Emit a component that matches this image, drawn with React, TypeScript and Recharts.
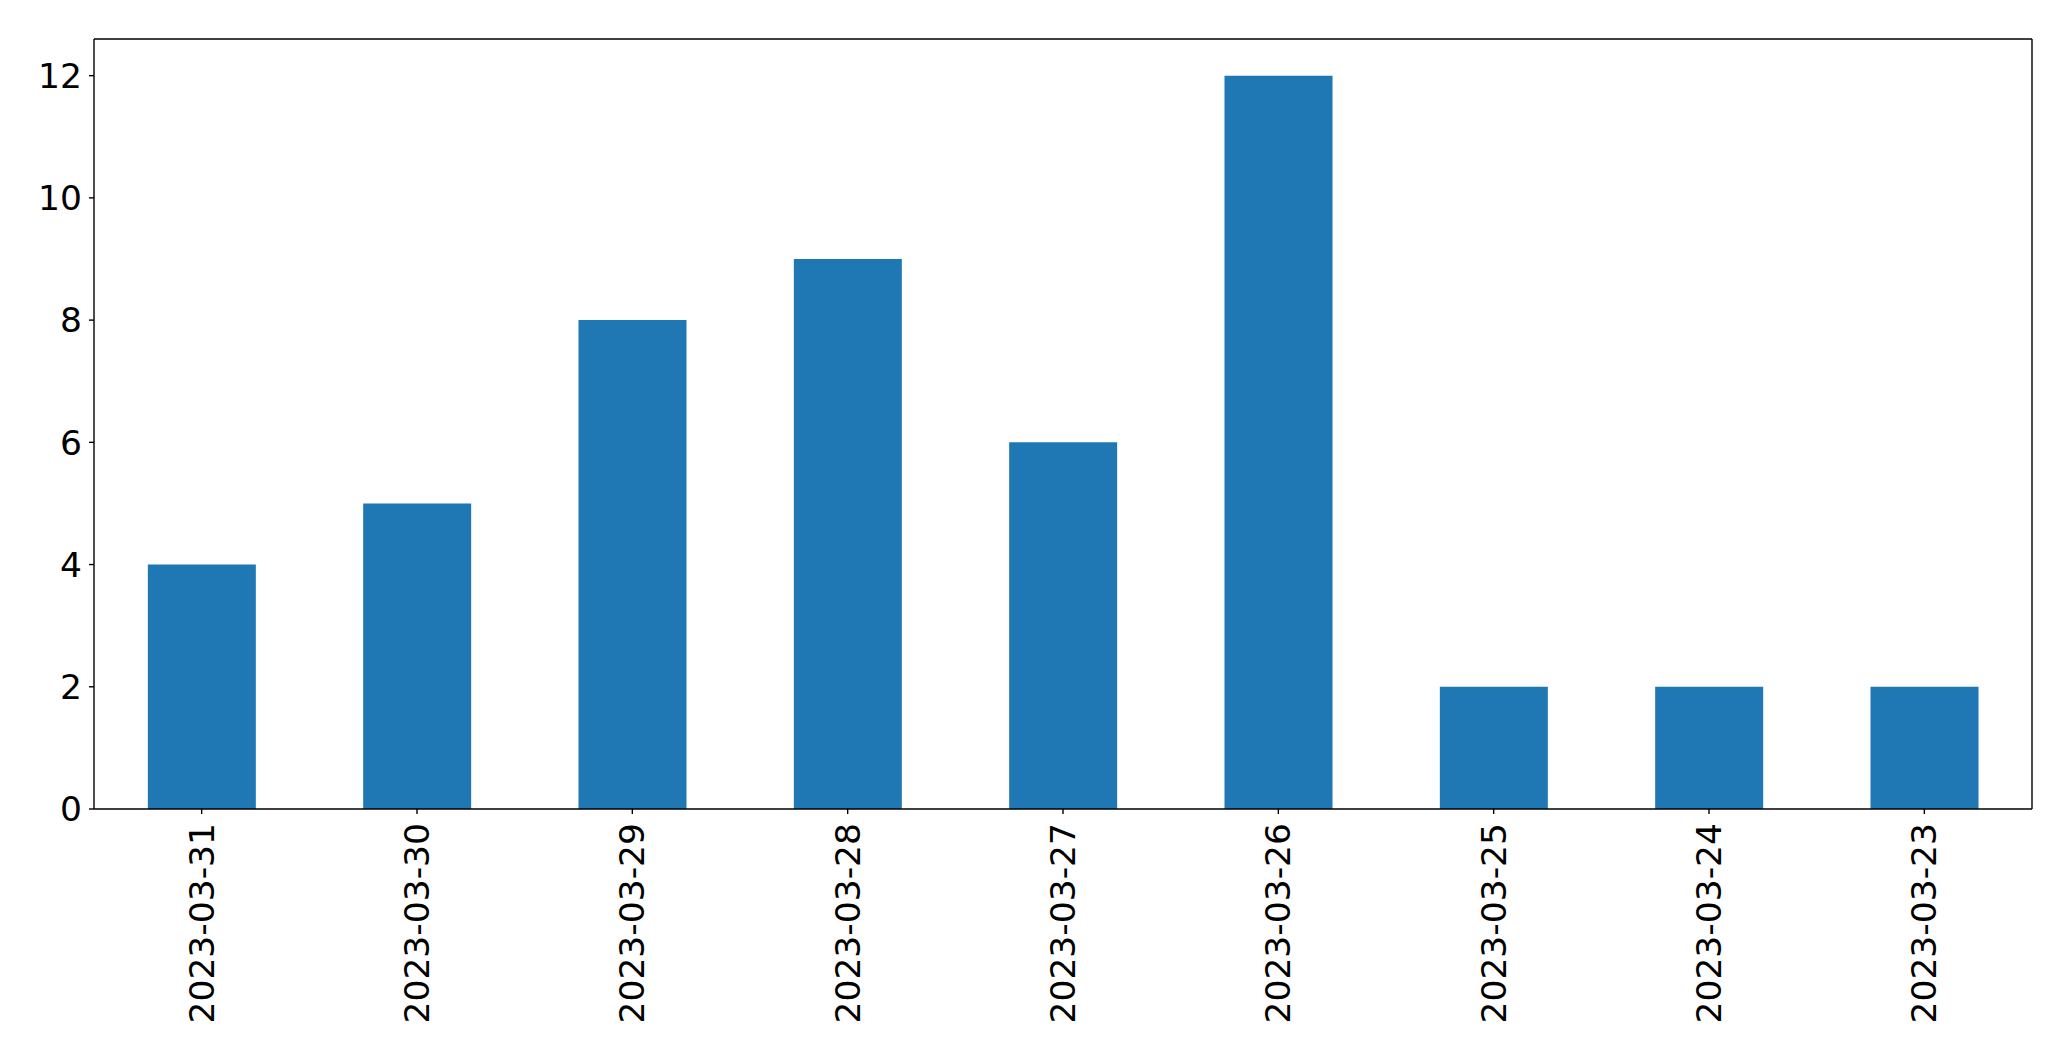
import { BarChart, Bar, XAxis, YAxis } from 'recharts';

const dates = [
  '2023-03-31',
  '2023-03-30',
  '2023-03-29',
  '2023-03-28',
  '2023-03-27',
  '2023-03-26',
  '2023-03-25',
  '2023-03-24',
  '2023-03-23',
];

const counts = [4, 5, 8, 9, 6, 12, 2, 2, 2];

const yTicks = [0, 2, 4, 6, 8, 10, 12];

const FONT = '"DejaVu Sans", sans-serif';

function DateTick(props: any) {
  const { x, y, payload } = props;
  const ty = y + 4;
  return (
    <text
      x={x}
      y={ty}
      transform={`rotate(-90, ${x}, ${ty})`}
      textAnchor="end"
      dominantBaseline="central"
      fontSize={34.5}
      fontFamily={FONT}
      fill="#000"
    >
      {payload.value}
    </text>
  );
}

export default function App() {
  const data = dates.map((d, i) => ({ date: d, count: counts[i] }));
  const line = { stroke: '#000', strokeWidth: 1.4 };

  return (
    <div style={{ position: 'absolute', left: 0, top: 0, width: 2071, height: 1061, background: '#fff' }}>
      <BarChart
        width={2071}
        height={1061}
        data={data}
        margin={{ top: 38, right: 38, bottom: 0, left: 0 }}
        barCategoryGap="25%"
      >
        <XAxis
          dataKey="date"
          height={252}
          stroke="#000"
          tick={<DateTick />}
          tickSize={5}
          tickMargin={5}
          interval={0}
          axisLine={line}
          tickLine={line}
        />
        <XAxis
          xAxisId="top"
          orientation="top"
          dataKey="date"
          height={1}
          stroke="#000"
          tick={false}
          tickLine={false}
          axisLine={line}
        />
        <YAxis
          width={94}
          stroke="#000"
          domain={[0, 12.6]}
          ticks={yTicks}
          tickSize={5}
          tickMargin={7}
          tick={{ fontSize: 34.5, fontFamily: FONT, fill: '#000' }}
          axisLine={line}
          tickLine={line}
        />
        <YAxis
          yAxisId="right"
          orientation="right"
          width={1}
          stroke="#000"
          domain={[0, 12.6]}
          tick={false}
          tickLine={false}
          axisLine={line}
        />
        <Bar dataKey="count" fill="#1f77b4" isAnimationActive={false} />
      </BarChart>
    </div>
  );
}
